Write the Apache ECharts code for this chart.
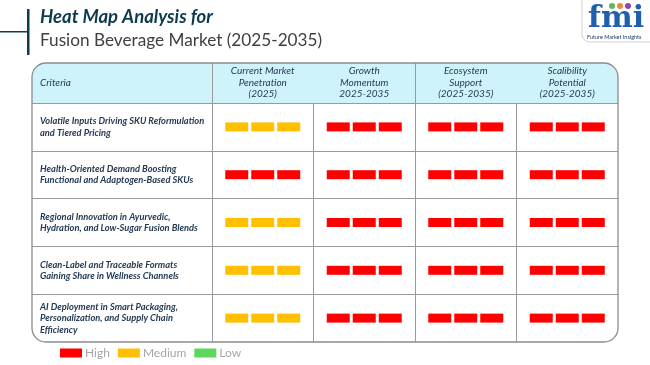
<!DOCTYPE html>
<html><head><meta charset="utf-8">
<script src="https://cdn.jsdelivr.net/npm/echarts@6/dist/echarts.min.js"></script>
<style>html,body{margin:0;padding:0;background:#fff}#c{width:650px;height:365px}</style>
</head><body><div id="c"></div>
<script>
const criteria = [
  'Volatile Inputs Driving SKU Reformulation\nand Tiered Pricing',
  'Health-Oriented Demand Boosting\nFunctional and Adaptogen-Based SKUs',
  'Regional Innovation in Ayurvedic,\nHydration, and Low-Sugar Fusion Blends',
  'Clean-Label and Traceable Formats\nGaining Share in Wellness Channels',
  'AI Deployment in Smart Packaging,\nPersonalization, and Supply Chain\nEfficiency'
];
const columns = [
  'Current Market\nPenetration\n(2025)',
  'Growth\nMomentum\n2025-2035',
  'Ecosystem\nSupport\n(2025-2035)',
  'Scalibility\nPotential\n(2025-2035)'
];
const levelNames = ['High', 'Medium', 'Low'];
const levelColors = ['#FF0000', '#FFC000', '#5CD65C'];
// ratings[row][column]
const ratings = [
  ['Medium', 'High', 'High', 'High'],
  ['High', 'High', 'High', 'High'],
  ['Medium', 'High', 'High', 'High'],
  ['Medium', 'High', 'High', 'High'],
  ['Medium', 'High', 'High', 'High']
];

const chart = echarts.init(document.getElementById('c'), null, {renderer: 'canvas'});
const lineColor = '#9a9a9a';
const textDark = '#243B53';

function renderCell(params, api) {
  const c = api.coord([api.value(0), api.value(1)]);
  const w = 23, h = 9, g = 3;
  const color = api.visual('color');
  const children = [];
  for (let i = -1; i <= 1; i++) {
    children.push({
      type: 'rect',
      shape: {x: c[0] + i * (w + g) - w / 2, y: c[1] - h / 2, width: w, height: h},
      style: {fill: color}
    });
  }
  return {type: 'group', children};
}

const series = levelNames.map((name, li) => {
  const data = [];
  ratings.forEach((row, r) => row.forEach((lv, col) => { if (lv === name) data.push([col, r]); }));
  return {
    name, type: 'custom', xAxisIndex: 0, yAxisIndex: 0,
    itemStyle: {color: levelColors[li]},
    renderItem: renderCell, data, z: 5
  };
});

chart.setOption({
  animation: false,
  textStyle: {fontFamily: 'Lato'},
  grid: [
    {left: 212, top: 103, width: 406, height: 239},
    {left: 32, top: 103, width: 180, height: 239},
    {left: 212, top: 63, width: 406, height: 40}
  ],
  xAxis: [
    {gridIndex: 0, type: 'category', data: columns, position: 'top',
      axisLine: {show: false}, axisTick: {show: false},
      axisLabel: {interval: 0, margin: 3, fontSize: 10, fontStyle: 'italic', color: textDark, lineHeight: 11.5},
      splitLine: {show: true, showMinLine: true, showMaxLine: false, lineStyle: {color: lineColor, width: 1}}},
    {gridIndex: 1, type: 'category', data: ['Criteria'], show: false},
    {gridIndex: 2, type: 'category', data: columns,
      axisLine: {show: false}, axisTick: {show: false}, axisLabel: {show: false},
      splitLine: {show: true, showMinLine: true, showMaxLine: false, lineStyle: {color: lineColor, width: 1}}}
  ],
  yAxis: [
    {gridIndex: 0, type: 'category', data: criteria, inverse: true,
      axisLine: {show: false}, axisTick: {show: false}, axisLabel: {show: false},
      splitLine: {show: true, showMinLine: true, showMaxLine: false, lineStyle: {color: lineColor, width: 1}}},
    {gridIndex: 1, type: 'category', data: criteria, inverse: true,
      axisLine: {show: false}, axisTick: {show: false},
      axisLabel: {inside: true, margin: 8, align: 'left', fontSize: 9.3, fontWeight: 'bold', fontStyle: 'italic',
        color: textDark, lineHeight: 11.5, interval: 0},
      splitLine: {show: true, showMinLine: true, showMaxLine: false, lineStyle: {color: lineColor, width: 1}}},
    {gridIndex: 2, type: 'category', data: ['h'], show: false}
  ],
  legend: {
    data: levelNames, left: 60, top: 347, icon: 'rect', itemWidth: 22, itemHeight: 9, itemGap: 8,
    padding: 0, selectedMode: false,
    textStyle: {color: '#a6a6a6', fontSize: 12, padding: [0, 0, 0, -2]}
  },
  graphic: [
    {type: 'rect', z: -10, silent: true, shape: {x: 32, y: 63, width: 586, height: 40, r: [14, 14, 0, 0]},
      style: {fill: '#CFF3FA'}},
    {type: 'rect', z: 100, silent: true, shape: {x: 32, y: 63, width: 586, height: 279, r: 14},
      style: {fill: 'none', stroke: '#8c8c8c', lineWidth: 1.3}},
    {type: 'text', z: 100, left: 40, top: 78, style: {text: 'Criteria', fontSize: 10, fontStyle: 'italic', fill: textDark, fontFamily: 'Lato'}},
    // title decoration
    {type: 'rect', shape: {x: 27, y: 9, width: 2.5, height: 46}, style: {fill: '#0E3A4F'}},
    {type: 'rect', shape: {x: 0, y: 31, width: 28, height: 1.5}, style: {fill: '#0E3A4F'}},
    {type: 'text', left: 40, top: 8, style: {text: 'Heat Map Analysis for', fontSize: 18.5, fontWeight: 'bold', fontStyle: 'italic', fill: '#0E3A4F', fontFamily: 'Lato'}},
    {type: 'text', left: 40, top: 32, style: {text: 'Fusion Beverage Market (2025-2035)', fontSize: 17.2, fill: '#404040', fontFamily: 'Lato'}},
    // logo
    {type: 'rect', shape: {x: 582, y: -10, width: 80, height: 52, r: 8}, style: {fill: '#fff', stroke: '#d0d0d0', lineWidth: 1}},
    {type: 'text', left: 588, top: 4, style: {text: 'fmi', fontSize: 30, fontWeight: 'bold', fontFamily: 'DejaVu Serif', fill: '#1F5FAD'}},
    {type: 'circle', shape: {cx: 612, cy: 6, r: 3}, style: {fill: '#5CB85C'}},
    {type: 'circle', shape: {cx: 620, cy: 6, r: 3}, style: {fill: '#F0883E'}},
    {type: 'circle', shape: {cx: 628, cy: 6, r: 3}, style: {fill: '#8E44AD'}},
    {type: 'text', left: 587, top: 34, style: {text: 'Future Market Insights', fontSize: 5.5, fill: '#1F3A6B', fontFamily: 'Lato'}}
  ],
  series
});
</script></body></html>
